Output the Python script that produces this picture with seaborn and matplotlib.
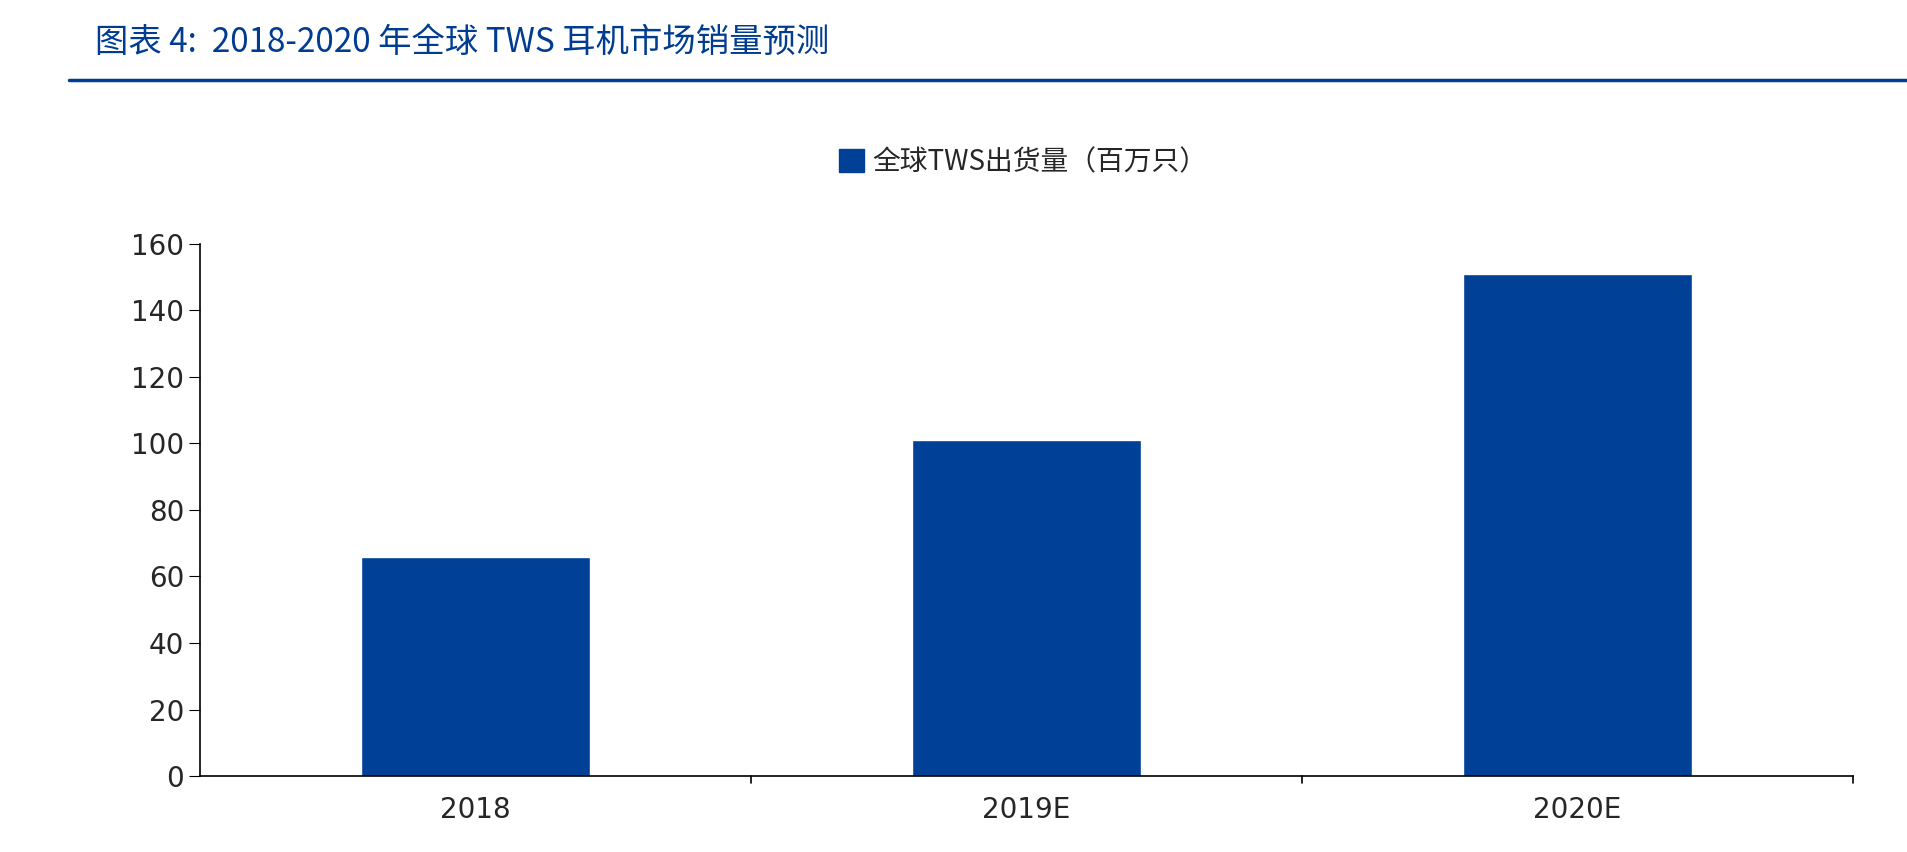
import matplotlib
matplotlib.use("Agg")
import matplotlib.pyplot as plt
import seaborn as sns
import pandas as pd
from matplotlib.patches import Patch
from matplotlib.lines import Line2D

categories = ["2018", "2019E", "2020E"]
values = [66, 101, 151]
yticks = [0, 20, 40, 60, 80, 100, 120, 140, 160]

sns.set_style("white")
plt.rcParams['font.family'] = ['Noto Sans CJK SC', 'DejaVu Sans']

fig = plt.figure(figsize=(19.08, 8.52), dpi=100)
ax = fig.add_axes([0.105, 0.089, 0.866, 0.625])
df = pd.DataFrame({"cat": categories, "val": values})
sns.barplot(data=df, x="cat", y="val", color="#004097", saturation=1, width=0.415, ax=ax)
ax.set_ylim(0, 160)
ax.set_xlim(-0.5, 2.5)
ax.set_yticks(yticks)
ax.set_yticklabels([str(t) for t in yticks], fontsize=20, family=['DejaVu Sans'])
ax.set_xticks([0, 1, 2])
ax.set_xticklabels(categories, fontsize=20, family=['DejaVu Sans'])
ax.set_xlabel(""); ax.set_ylabel("")
for s in ["top", "right"]:
    ax.spines[s].set_visible(False)
for s in ["left", "bottom"]:
    ax.spines[s].set_color("black"); ax.spines[s].set_linewidth(1.2)
ax.tick_params(axis="y", direction="out", length=8, color="black", left=True)
ax.tick_params(axis="x", length=0, pad=14)
for xv in [0.5, 1.5, 2.5]:
    ax.plot([xv, xv], [0, -2.2], color="black", lw=1.2, clip_on=False)

fig.legend(handles=[Patch(color="#004097")], labels=["全球TWS出货量（百万只）"],
           loc="center", bbox_to_anchor=(0.536, 0.81), frameon=False, fontsize=20,
           handlelength=0.9, handleheight=0.9, handletextpad=0.3)

fig.text(0.05, 0.95, "图表 4:  2018-2020 年全球 TWS 耳机市场销量预测", fontsize=24,
         style="italic", color="#003C8F", va="center", ha="left")
fig.add_artist(Line2D([0.036, 1.0], [0.906, 0.906], color="#003C8F", lw=2.5))

fig.savefig("out.png", dpi=100)
